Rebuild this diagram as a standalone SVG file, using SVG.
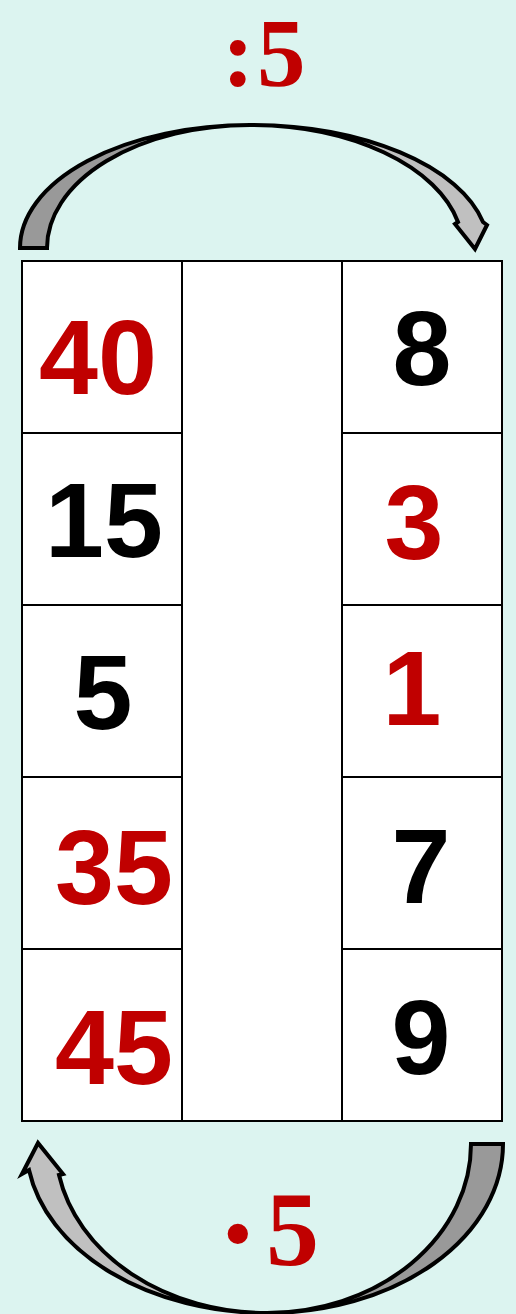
<svg xmlns="http://www.w3.org/2000/svg" width="516" height="1314" viewBox="0 0 516 1314">
<style>
.cell{fill:#ffffff;stroke:#000000;stroke-width:2}
.num{font-family:"Liberation Sans",Arial,sans-serif;font-weight:bold;font-size:106px;text-anchor:middle}
.red{fill:#c00000}
.blk{fill:#000000}
.op{font-family:"Liberation Serif","Times New Roman",serif;font-weight:bold;fill:#c00000}
.dark{fill:#999999;stroke:#000000;stroke-width:4;stroke-linejoin:miter}
.light{fill:#c0c0c0;stroke:#000000;stroke-width:4;stroke-linejoin:miter}
</style>
<rect x="0" y="0" width="516" height="1314" fill="#dcf4f0"/>
<g id="label-top"><text class="op" font-size="97" y="86"><tspan x="222">:</tspan><tspan x="257">5</tspan></text></g>
<g id="label-bottom"><text class="op" font-size="106"><tspan x="217" y="1275" font-size="125">·</tspan><tspan x="266" y="1265">5</tspan></text></g>
<g id="connectors">
<g id="arrow-top">
<path class="dark" d="M 20 248 A 230 123 0 0 1 250 125 A 203 123 0 0 0 47 248 Z"/>
<path class="light" d="M 250 125 A 238 123 0 0 1 483 222 L 487 225 L 475 249 L 455 224 L 458 222 A 213 123 0 0 0 250 125 Z"/>
</g>
<g id="arrow-bottom">
<path class="dark" d="M 503 1144 A 236 169 0 0 1 267 1313 A 204 169 0 0 0 471 1144 Z"/>
<path class="light" d="M 267 1313 A 241 169 0 0 1 29 1170 L 22 1174 L 38 1143 L 63 1174 L 59 1175 A 211 169 0 0 0 267 1313 Z"/>
</g>
</g>
<g id="middle-column"><rect class="cell" x="182" y="261" width="160" height="860"/></g>
<g id="cell-l1"><rect class="cell" x="22" y="261" width="160" height="172"/><text class="num red" x="98" y="394">40</text></g>
<g id="cell-l2"><rect class="cell" x="22" y="433" width="160" height="172"/><text class="num blk" x="104" y="557">15</text></g>
<g id="cell-l3"><rect class="cell" x="22" y="605" width="160" height="172"/><text class="num blk" x="103" y="729">5</text></g>
<g id="cell-l4"><rect class="cell" x="22" y="777" width="160" height="172"/><text class="num red" x="114" y="904">35</text></g>
<g id="cell-l5"><rect class="cell" x="22" y="949" width="160" height="172"/><text class="num red" x="114" y="1084">45</text></g>
<g id="cell-r1"><rect class="cell" x="342" y="261" width="160" height="172"/><text class="num blk" x="422" y="385">8</text></g>
<g id="cell-r2"><rect class="cell" x="342" y="433" width="160" height="172"/><text class="num red" x="414" y="559">3</text></g>
<g id="cell-r3"><rect class="cell" x="342" y="605" width="160" height="172"/><text class="num red" x="412" y="725">1</text></g>
<g id="cell-r4"><rect class="cell" x="342" y="777" width="160" height="172"/><text class="num blk" x="421" y="903">7</text></g>
<g id="cell-r5"><rect class="cell" x="342" y="949" width="160" height="172"/><text class="num blk" x="421" y="1074">9</text></g>
</svg>
